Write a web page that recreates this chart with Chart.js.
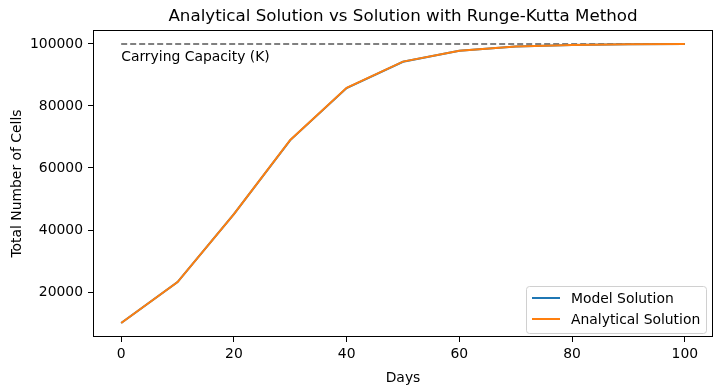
<!DOCTYPE html>
<html lang="en">
<head>
    <meta charset="UTF-8">
    <title>Analytical Solution vs Runge-Kutta</title>
    <script src="https://cdn.jsdelivr.net/npm/chart.js"></script>
    <style>
        html, body { margin: 0; padding: 0; background: #fff; }
        #wrap { width: 722px; height: 391px; }
    </style>
</head>
<body>
    <div id="wrap"><canvas id="growthChart" width="722" height="391"></canvas></div>

    <script>
        // values
        const days = [0, 10, 20, 30, 40, 50, 60, 70, 80, 90, 100];
        const modelValues = [10000, 23200, 45100, 69000, 85800, 94250, 97800, 99180, 99700, 99890, 99960];
        const analyticalValues = [10000, 23200, 45100, 69050, 85850, 94300, 97820, 99190, 99700, 99890, 99960];
        const carryingCapacity = 100000;
        const xTicks = [0, 20, 40, 60, 80, 100];
        const yTicks = [20000, 40000, 60000, 80000, 100000];

        const FONT = "'DejaVu Sans', sans-serif";
        const FS = 13.9;

        const pts = (ys) => days.map((d, i) => ({ x: d, y: ys[i] }));

        // frame, title, K label, legend (matplotlib style)
        const extras = {
            id: 'extras',
            afterDatasetsDraw(chart) {
                const { ctx, chartArea: a, scales } = chart;
                ctx.save();
                ctx.strokeStyle = '#000';
                ctx.lineWidth = 1;
                ctx.strokeRect(a.left + 0.5, a.top + 0.5, a.right - a.left - 1, a.bottom - a.top - 1);

                ctx.fillStyle = '#000';
                ctx.font = '16.7px ' + FONT;
                ctx.textAlign = 'center';
                ctx.textBaseline = 'bottom';
                ctx.fillText('Analytical Solution vs Solution with Runge-Kutta Method', (a.left + a.right) / 2, a.top - 5);

                ctx.font = FS + 'px ' + FONT;
                ctx.textAlign = 'left';
                ctx.textBaseline = 'alphabetic';
                ctx.fillText('Carrying Capacity (K)', scales.x.getPixelForValue(0), scales.y.getPixelForValue(94500));

                // legend box
                const bx = a.right - 187, by = a.bottom - 51, bw = 180, bh = 47;
                ctx.fillStyle = 'rgba(255,255,255,0.8)';
                ctx.strokeStyle = '#d0d0d0';
                ctx.beginPath();
                ctx.roundRect(bx + 0.5, by + 0.5, bw, bh, 3);
                ctx.fill();
                ctx.stroke();
                const items = [['Model Solution', '#1f77b4'], ['Analytical Solution', '#ff7f0e']];
                items.forEach(([label, col], i) => {
                    const y = by + 12 + i * 21;
                    ctx.strokeStyle = col;
                    ctx.lineWidth = 2;
                    ctx.beginPath();
                    ctx.moveTo(bx + 6, y);
                    ctx.lineTo(bx + 34, y);
                    ctx.stroke();
                    ctx.fillStyle = '#000';
                    ctx.font = FS + 'px ' + FONT;
                    ctx.textBaseline = 'middle';
                    ctx.fillText(label, bx + 45, y + 1);
                });
                ctx.restore();
            }
        };

        new Chart(document.getElementById('growthChart'), {
            type: 'line',
            data: {
                datasets: [
                    {
                        label: 'Carrying Capacity',
                        data: [{ x: 0, y: carryingCapacity }, { x: 100, y: carryingCapacity }],
                        borderColor: '#808080',
                        borderWidth: 2,
                        borderDash: [6, 3],
                        pointRadius: 0,
                        order: 2
                    },
                    {
                        label: 'Model Solution',
                        data: pts(modelValues),
                        borderColor: '#1f77b4',
                        borderWidth: 2,
                        pointRadius: 0,
                        tension: 0,
                        order: 1
                    },
                    {
                        label: 'Analytical Solution',
                        data: pts(analyticalValues),
                        borderColor: '#ff7f0e',
                        borderWidth: 2,
                        pointRadius: 0,
                        tension: 0,
                        order: 0
                    }
                ]
            },
            options: {
                responsive: false,
                animation: false,
                layout: { padding: { top: 30, right: 9, left: 0, bottom: 0 } },
                plugins: {
                    legend: { display: false },
                    title: { display: false },
                    tooltip: { enabled: false }
                },
                scales: {
                    x: {
                        type: 'linear',
                        min: -5,
                        max: 105,
                        afterBuildTicks: (s) => { s.ticks = xTicks.map(v => ({ value: v })); },
                        afterFit: (s) => { s.height = 54; },
                        grid: { drawOnChartArea: false, color: '#000', tickLength: 5, tickColor: '#000' },
                        border: { display: false },
                        ticks: { color: '#000', font: { family: FONT, size: FS }, padding: 4, maxRotation: 0 },
                        title: { display: true, text: 'Days', color: '#000', font: { family: FONT, size: FS }, padding: { top: 2 } }
                    },
                    y: {
                        min: 5500,
                        max: 104500,
                        afterBuildTicks: (s) => { s.ticks = yTicks.map(v => ({ value: v })); },
                        afterFit: (s) => { s.width = 93; },
                        grid: { drawOnChartArea: false, color: '#000', tickLength: 5, tickColor: '#000' },
                        border: { display: false },
                        ticks: { color: '#000', font: { family: FONT, size: FS }, padding: 5, callback: (v) => String(v) },
                        title: { display: true, text: 'Total Number of Cells', color: '#000', font: { family: FONT, size: FS }, padding: { top: 9, bottom: 4 } }
                    }
                }
            },
            plugins: [extras]
        });
    </script>
</body>
</html>
